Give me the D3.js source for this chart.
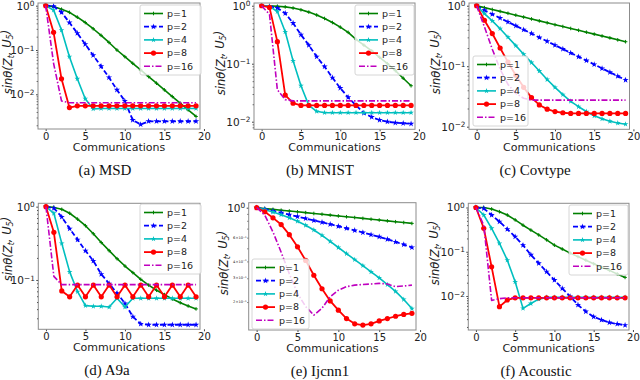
<!DOCTYPE html>
<html>
<head>
<meta charset="utf-8">
<script src="https://cdn.jsdelivr.net/npm/d3@7"></script>
<style>
body { margin: 0; background: #fff; }
text { font-family: "DejaVu Sans", sans-serif; }
text.caption { font-family: "Liberation Serif", "Times New Roman", serif; }
</style>
</head>
<body>
<svg id="fig" width="640" height="380"></svg>
<script>
// communications rounds on the x axis
var comms = [0,1,2,3,4,5,6,7,8,9,10,11,12,13,14,15,16,17,18,19];
var xTicks = [0,5,10,15,20];
var legendLabels = ['p=1','p=2','p=4','p=8','p=16'];
var captions = ['(a) MSD','(b) MNIST','(c) Covtype','(d) A9a','(e) Ijcnn1','(f) Acoustic'];

// sin theta(Z_t, U_5) per dataset, one array per p
var msdP1  = [1,0.955,0.832,0.708,0.55,0.417,0.302,0.214,0.148,0.1,0.0708,0.0501,0.0355,0.0251,0.0178,0.0126,0.0089,0.0063,0.00447,0.00316];
var msdP2  = [1,0.977,0.708,0.417,0.24,0.135,0.0759,0.0427,0.024,0.0126,0.00708,0.00263,0.00209,0.00245,0.00245,0.00245,0.00245,0.00245,0.00245,0.00245];
var msdP4  = [1,0.794,0.282,0.0708,0.0224,0.00794,0.00468,0.00479,0.00479,0.00479,0.00479,0.00479,0.00479,0.00479,0.00479,0.00479,0.00479,0.00479,0.00479,0.00479];
var msdP8  = [1,0.251,0.0224,0.00501,0.0055,0.0055,0.0055,0.0055,0.0055,0.0055,0.0055,0.0055,0.0055,0.0055,0.0055,0.0055,0.0055,0.0055,0.0055,0.0055];
var msdP16 = [1,0.0501,0.00708,0.00646,0.00646,0.00646,0.00646,0.00646,0.00646,0.00646,0.00646,0.00646,0.00646,0.00646,0.00646,0.00646,0.00646,0.00646,0.00646,0.00646];

var mnistP1  = [1,0.995,0.982,0.955,0.912,0.851,0.776,0.692,0.603,0.513,0.427,0.347,0.263,0.209,0.166,0.129,0.1,0.0759,0.0562,0.0417];
var mnistP2  = [1,0.977,0.912,0.741,0.501,0.316,0.209,0.132,0.0891,0.0575,0.038,0.0263,0.0191,0.0141,0.012,0.0107,0.01,0.00955,0.0094,0.0092];
var mnistP4  = [1,0.977,0.794,0.355,0.112,0.0417,0.0191,0.0151,0.0143,0.0143,0.0143,0.0143,0.0143,0.0143,0.0143,0.0143,0.0143,0.0143,0.0143,0.0143];
var mnistP8  = [1,0.933,0.24,0.0288,0.0209,0.0191,0.0191,0.0191,0.0191,0.0191,0.0191,0.0191,0.0191,0.0191,0.0191,0.0191,0.0191,0.0191,0.0191,0.0191];
var mnistP16 = [1,0.708,0.0355,0.024,0.0229,0.0229,0.0229,0.0229,0.0229,0.0229,0.0229,0.0229,0.0229,0.0229,0.0229,0.0229,0.0229,0.0229,0.0229,0.0229];

var covP1  = [1,0.93,0.866,0.806,0.75,0.698,0.649,0.604,0.562,0.523,0.486,0.453,0.421,0.392,0.365,0.339,0.316,0.294,0.273,0.254];
var covP2  = [1,0.84,0.724,0.625,0.54,0.466,0.402,0.347,0.299,0.258,0.223,0.192,0.166,0.143,0.124,0.107,0.092,0.0794,0.0685,0.0592];
var covP4  = [1,0.741,0.562,0.417,0.302,0.219,0.158,0.115,0.0832,0.0603,0.0447,0.0339,0.0263,0.0214,0.0178,0.0151,0.0135,0.0123,0.0115,0.011];
var covP8  = [1,0.575,0.347,0.2,0.117,0.0708,0.0447,0.0302,0.0229,0.0195,0.0178,0.017,0.0166,0.0166,0.0166,0.0166,0.0166,0.0166,0.0166,0.0166];
var covP16 = [1,0.447,0.191,0.0891,0.0501,0.0355,0.0295,0.0275,0.0275,0.0275,0.0275,0.0275,0.0275,0.0275,0.0275,0.0275,0.0275,0.0275,0.0275,0.0275];

var a9aP1  = [1,0.977,0.92,0.813,0.676,0.55,0.427,0.324,0.251,0.195,0.155,0.126,0.102,0.0851,0.0724,0.0631,0.055,0.049,0.0442,0.0403];
var a9aP2  = [1,0.955,0.724,0.501,0.355,0.251,0.182,0.12,0.0891,0.0661,0.0479,0.0316,0.0251,0.0245,0.0245,0.0245,0.0245,0.0245,0.0245,0.0245];
var a9aP4  = [1,0.813,0.316,0.129,0.0692,0.0447,0.0437,0.0437,0.0427,0.0562,0.0427,0.0562,0.0562,0.0562,0.0562,0.0562,0.0562,0.0562,0.0562,0.0562];
var a9aP8  = [1,0.447,0.0708,0.0589,0.0851,0.0589,0.0851,0.0589,0.0851,0.0589,0.0851,0.0589,0.0851,0.0589,0.0851,0.0589,0.0851,0.0589,0.0851,0.0589];
var a9aP16 = [1,0.112,0.0863,0.0863,0.0863,0.0863,0.0863,0.0863,0.0863,0.0863,0.0863,0.0863,0.0863,0.0863,0.0863,0.0863,0.0863,0.0863,0.0863,0.0863];

var ijcP1  = [1,0.986,0.972,0.958,0.945,0.932,0.919,0.906,0.894,0.881,0.869,0.857,0.845,0.833,0.821,0.81,0.799,0.787,0.776,0.765];
var ijcP2  = [1,0.973,0.944,0.916,0.887,0.859,0.832,0.805,0.78,0.754,0.728,0.703,0.679,0.655,0.631,0.608,0.583,0.558,0.533,0.508];
var ijcP4  = [1,0.966,0.929,0.887,0.841,0.794,0.741,0.684,0.624,0.562,0.507,0.457,0.412,0.372,0.335,0.302,0.269,0.24,0.209,0.179];
var ijcP8  = [1,0.933,0.841,0.75,0.631,0.513,0.407,0.316,0.251,0.204,0.174,0.151,0.138,0.135,0.138,0.145,0.151,0.157,0.162,0.165];
var ijcP16 = [1,0.881,0.661,0.468,0.324,0.232,0.185,0.16,0.18,0.219,0.245,0.26,0.267,0.27,0.272,0.275,0.272,0.26,0.263,0.267];

var acoP1  = [1,0.998,0.925,0.805,0.676,0.525,0.398,0.309,0.24,0.186,0.141,0.115,0.0933,0.0776,0.0646,0.0537,0.0447,0.038,0.0316,0.0263];
var acoP2  = [1,0.955,0.676,0.479,0.324,0.219,0.141,0.0851,0.055,0.0355,0.0229,0.0148,0.0098,0.0063,0.00447,0.00339,0.00288,0.00251,0.00234,0.00219];
var acoP4  = [1,0.676,0.339,0.155,0.0646,0.0209,0.00525,0.00676,0.00851,0.00933,0.00933,0.00933,0.00933,0.00933,0.00933,0.00933,0.00933,0.00933,0.00933,0.00933];
var acoP8  = [1,0.339,0.0457,0.00575,0.00813,0.00912,0.00912,0.00912,0.00912,0.00912,0.00912,0.00912,0.00912,0.00912,0.00912,0.00912,0.00912,0.00912,0.00912,0.00912];
var acoP16 = [1,0.398,0.00794,0.00871,0.00912,0.00912,0.00912,0.00912,0.00912,0.00912,0.00912,0.00912,0.00912,0.00912,0.00912,0.00912,0.00912,0.00912,0.00912,0.00912];

// line styles for p=1,2,4,8,16
var colors = ['#008000','#0000ff','#00bfbf','#ff0000','#bf00bf'];
var dashes = [null,'5,2.5',null,null,'6,2,1.5,2'];
var widths = [1.6,1.8,1.6,1.8,1.6];

var svg = d3.select('#fig');

// layout of each panel (pixels), y domains as log10 exponents
var panels = [
  {series:[msdP1,msdP2,msdP4,msdP8,msdP16], l:38, r:200, t:3, b:129, ylog:[-2.783,0.061],
   leg:{x:140,y:5,w:61}, ylab:{x:8,y:62}, cap:105},
  {series:[mnistP1,mnistP2,mnistP4,mnistP8,mnistP16], l:254, r:415, t:3, b:129.3, ylog:[-2.131,0.047],
   leg:{x:355,y:5,w:59}, ylab:{x:221,y:63}, cap:320},
  {series:[covP1,covP2,covP4,covP8,covP16], l:469, r:629.5, t:3, b:129.3, ylog:[-2.043,0.045],
   leg:{x:473,y:56,w:55}, ylab:{x:436,y:62}, cap:535},
  {series:[a9aP1,a9aP2,a9aP4,a9aP8,a9aP16], l:38.3, r:200, t:203.3, b:329.3, ylog:[-1.673,0.046],
   leg:{x:140,y:204,w:61}, ylab:{x:8,y:249}, cap:107},
  {series:[ijcP1,ijcP2,ijcP4,ijcP8,ijcP16], l:248.7, r:416, t:202.7, b:330, ylog:[-0.906,0.037],
   leg:{x:252,y:259,w:57}, ylab:{x:224,y:263}, cap:320, minorLabels:[2,3,4,6]},
  {series:[acoP1,acoP2,acoP4,acoP8,acoP16], l:468.3, r:629, t:203.3, b:330, ylog:[-2.768,0.095],
   leg:{x:569,y:205,w:59}, ylab:{x:435,y:253}, cap:536}
];

function marker(sel, k, cx, cy) {
  if (k === 0) {
    sel.append('path').attr('d','M'+(cx-1.8)+','+cy+'h3.6M'+cx+','+(cy-1.8)+'v3.6')
      .attr('stroke',colors[0]).attr('stroke-width',1);
  } else if (k === 1) {
    sel.append('path').attr('d', d3.symbol().type(d3.symbolStar).size(12)())
      .attr('transform','translate('+cx+','+cy+')').attr('fill',colors[1]);
  } else if (k === 2) {
    sel.append('path').attr('d', d3.symbol().type(d3.symbolStar).size(10)())
      .attr('transform','translate('+cx+','+cy+')').attr('fill',colors[2]);
  } else if (k === 3) {
    sel.append('circle').attr('cx',cx).attr('cy',cy).attr('r',2.6).attr('fill',colors[3]);
  }
}

function sup(t, base, e) {
  t.append('tspan').text(base);
  t.append('tspan').attr('dy','-0.45em').attr('font-size','0.7em').text(e < 0 ? '\u2212' + (-e) : '' + e);
}

panels.forEach(function(p, pi) {
  var g = svg.append('g');
  var x = d3.scaleLinear().domain([-0.97, 19.5]).range([p.l, p.r]);
  var y = d3.scaleLog().domain([Math.pow(10,p.ylog[0]), Math.pow(10,p.ylog[1])]).range([p.b, p.t]);

  var clipId = 'clip' + pi;
  g.append('clipPath').attr('id', clipId).append('rect')
    .attr('x', p.l).attr('y', p.t).attr('width', p.r - p.l).attr('height', p.b - p.t);

  // ticks
  var majors = [], minors = [];
  for (var e = Math.floor(p.ylog[0]); e <= Math.ceil(p.ylog[1]); e++) {
    for (var m = 1; m < 10; m++) {
      var v = m * Math.pow(10, e);
      if (Math.log10(v) < p.ylog[0] || Math.log10(v) > p.ylog[1]) continue;
      if (m === 1) majors.push(v); else minors.push(v);
    }
  }
  g.append('g').attr('transform','translate('+p.l+',0)')
    .call(d3.axisLeft(y).tickValues(minors).tickSize(1.3).tickFormat(function(){ return ''; }))
    .call(function(a){ a.select('.domain').remove(); a.selectAll('line').attr('stroke','#444'); });

  var ya = g.append('g').attr('transform','translate('+p.l+',0)')
    .call(d3.axisLeft(y).tickValues(majors).tickSize(2).tickPadding(1.5).tickFormat(function(){ return ''; }));
  ya.select('.domain').remove();
  ya.selectAll('line').attr('stroke','#444');
  ya.selectAll('.tick text').attr('font-size','10.5px').attr('fill','#222')
    .each(function(v){ sup(d3.select(this), '10', Math.round(Math.log10(v))); });

  if (p.minorLabels) {
    minors.forEach(function(v) {
      var e = Math.floor(Math.log10(v) + 1e-9);
      var m = Math.round(v / Math.pow(10, e));
      if (p.minorLabels.indexOf(m) < 0) return;
      var t = g.append('text').attr('x', p.l - 2).attr('y', y(v)).attr('dy','0.32em')
        .attr('text-anchor','end').attr('font-size','3.6px').attr('fill','#222');
      sup(t, m + '\u00d710', e);
    });
  }

  var xa = g.append('g').attr('transform','translate(0,'+p.b+')')
    .call(d3.axisBottom(x).tickValues(xTicks).tickSize(2).tickPadding(1.8));
  xa.select('.domain').remove();
  xa.selectAll('line').attr('stroke','#444');
  xa.selectAll('text').attr('font-size','10px').attr('fill','#222');

  // series
  var line = d3.line().x(function(d,i){ return x(comms[i]); }).y(function(d){ return y(d); });
  var plot = g.append('g').attr('clip-path','url(#'+clipId+')');
  p.series.forEach(function(s, k) {
    plot.append('path').datum(s).attr('d', line).attr('fill','none')
      .attr('stroke', colors[k]).attr('stroke-width', widths[k])
      .attr('stroke-dasharray', dashes[k]).attr('stroke-linejoin','round');
    var mg = plot.append('g');
    s.forEach(function(v, i) { marker(mg, k, x(comms[i]), y(v)); });
  });

  // frame
  g.append('rect').attr('x', p.l).attr('y', p.t).attr('width', p.r - p.l).attr('height', p.b - p.t)
    .attr('fill','none').attr('stroke','#8c8c8c').attr('stroke-width',1);

  // legend
  var lg = g.append('g').attr('transform','translate('+p.leg.x+','+p.leg.y+')');
  lg.append('rect').attr('width', p.leg.w).attr('height', 70).attr('rx', 2)
    .attr('fill','#fff').attr('fill-opacity',0.8).attr('stroke','#ccc').attr('stroke-width',0.8);
  legendLabels.forEach(function(lab, k) {
    var ry = 8.5 + k * 13.2;
    lg.append('line').attr('x1', 4).attr('x2', 23).attr('y1', ry).attr('y2', ry)
      .attr('stroke', colors[k]).attr('stroke-width', widths[k]).attr('stroke-dasharray', dashes[k]);
    marker(lg, k, 13.5, ry);
    lg.append('text').attr('x', 27).attr('y', ry).attr('dy','0.35em')
      .attr('font-size','9.5px').attr('fill','#222').text(lab);
  });

  // axis labels
  var cx = (p.l + p.r) / 2;
  g.append('text').attr('x', cx).attr('y', p.b + 21.5).attr('text-anchor','middle')
    .attr('font-size','11px').attr('fill','#222').text('Communications');

  var yl = g.append('text').attr('transform','translate('+(p.ylab.x+4)+','+p.ylab.y+') rotate(-90)')
    .attr('text-anchor','middle').attr('font-size','11.5px').attr('fill','#222').attr('font-style','italic');
  yl.append('tspan').text('sin\u03b8(Z');
  yl.append('tspan').attr('dy','0.3em').attr('font-size','8px').text('t');
  yl.append('tspan').attr('dy','-0.3em').text(', U');
  yl.append('tspan').attr('dy','0.3em').attr('font-size','8px').text('5');
  yl.append('tspan').attr('dy','-0.3em').text(')');

  g.append('text').attr('class','caption').attr('x', p.cap).attr('y', p.b + 46)
    .attr('text-anchor','middle').attr('font-size','15px').attr('fill','#111').text(captions[pi]);
});
</script>
</body>
</html>
